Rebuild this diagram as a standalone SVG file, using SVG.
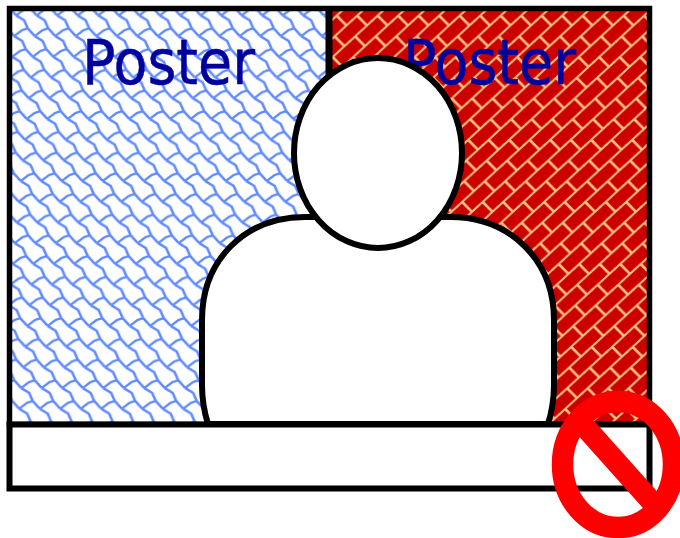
<svg xmlns="http://www.w3.org/2000/svg" width="680" height="538" viewBox="0 0 680 538">
<style>
.o{stroke:#000;stroke-width:6;fill:#fff}
.t{font-family:"DejaVu Sans",sans-serif;font-size:62px;fill:#00009c;stroke:#00009c;stroke-width:.5}
</style>
<defs>
<path id="bp" d="M0 0 L8.5 5 L12.75 13 L20.5 20.7 M0 20.7 L6.95 15 L12.75 13" fill="none" stroke="#5f8aff" stroke-width="2.4" stroke-linejoin="round"/>
<path id="rp" d="M-2 22.7 L22.5 -2 M5 15.7 L15.75 25.5 M5 -5 L15.75 4.8" fill="none" stroke="#f8bf80" stroke-width="2.2"/>
<pattern id="b" patternUnits="userSpaceOnUse" width="20.5" height="20.7" x="17.7" y="15.4" patternTransform="skewX(-5.52)">
<use href="#bp"/><use href="#bp" x="-20.5"/><use href="#bp" x="20.5"/><use href="#bp" y="-20.7"/><use href="#bp" y="20.7"/><use href="#bp" x="-20.5" y="-20.7"/><use href="#bp" x="20.5" y="20.7"/>
</pattern>
<pattern id="r" patternUnits="userSpaceOnUse" width="20.5" height="20.7" x="5.2" y="0" patternTransform="skewX(-5.52)">
<rect width="20.5" height="20.7" fill="#cc0000"/>
<use href="#rp"/><use href="#rp" x="-20.5"/><use href="#rp" x="20.5"/><use href="#rp" y="-20.7"/><use href="#rp" y="20.7"/>
</pattern>
</defs>
<g id="poster-left"><rect x="9.5" y="8.5" width="319.5" height="416" fill="url(#b)"/><text class="t" x="168.5" y="84" text-anchor="middle" textLength="173" lengthAdjust="spacingAndGlyphs">Poster</text></g>
<g id="poster-right"><rect x="329" y="8.5" width="320" height="416" fill="url(#r)"/><text class="t" x="489.5" y="84" text-anchor="middle" textLength="173" lengthAdjust="spacingAndGlyphs">Poster</text></g>
<g id="frame"><rect x="9.5" y="8.5" width="640" height="416" fill="none" stroke="#000" stroke-width="5.5"/><path d="M329 8.5V424" stroke="#000" stroke-width="7" fill="none"/></g>
<g id="person">
<path class="o" d="M208 424 Q202 405 202 385 V320 C202 260 245 217 305 217 H450 C510 217 554 260 554 320 V385 Q554 405 548 424 Z"/>
<ellipse class="o" cx="378" cy="153" rx="84" ry="95"/>
</g>
<g id="desk"><rect class="o" x="9.5" y="424.5" width="640" height="64"/></g>
<g id="no-sign" fill="none" stroke="#f00" stroke-width="21.5"><ellipse cx="618" cy="464.5" rx="55.5" ry="63"/><path d="M577 418 L660 511"/></g>
</svg>
